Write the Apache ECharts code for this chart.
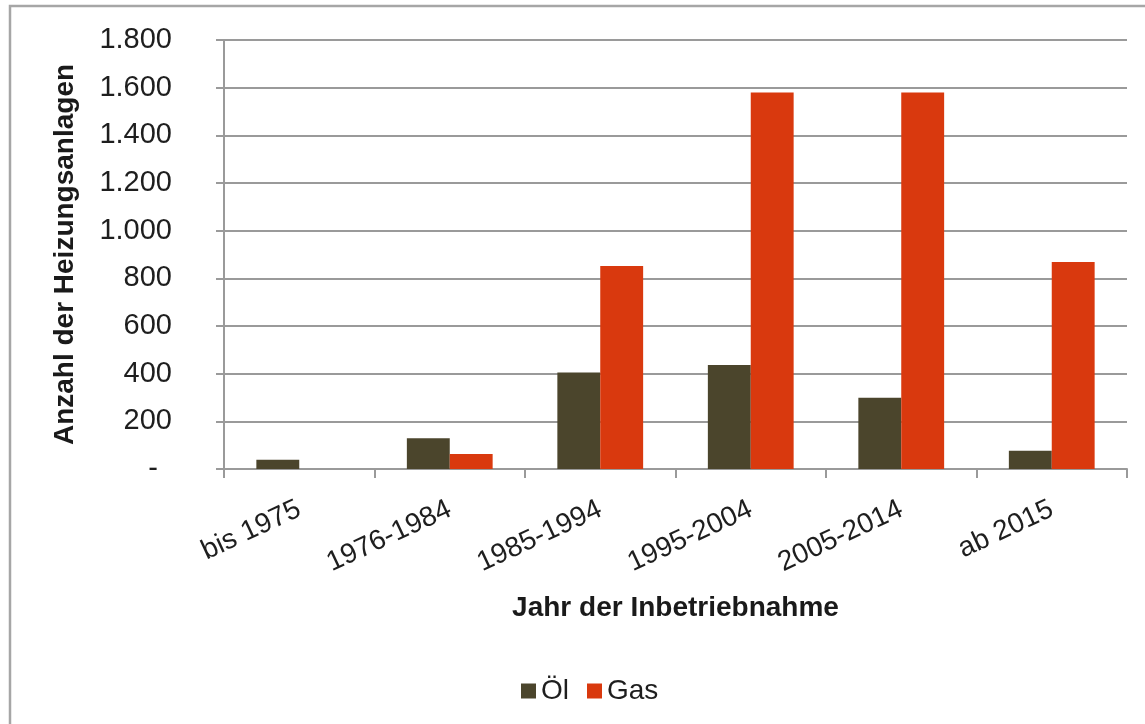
<!DOCTYPE html>
<html>
<head>
<meta charset="utf-8">
<script src="https://cdn.jsdelivr.net/npm/echarts@6/dist/echarts.min.js"></script>
<style>
    html, body { margin: 0; padding: 0; background: #fff; }
    #chart { width: 1145px; height: 724px; }
</style>
</head>
<body>
<div id="chart"></div>
<script>
var categories = ['bis 1975', '1976-1984', '1985-1994', '1995-2004', '2005-2014', 'ab 2015'];
var oelValues = [39, 129, 405, 436, 299, 77];
var gasValues = [0, 63, 852, 1580, 1580, 869];
var yTicks = [0, 200, 400, 600, 800, 1000, 1200, 1400, 1600, 1800];

var chartDom = document.getElementById('chart');
var myChart = echarts.init(chartDom);
var font = "'Liberation Sans', Arial, sans-serif";

function formatTick(v) {
    if (v === 0) {
        return '{d|-}';
    }
    // Tausenderpunkt wie im Original
    return String(v).replace(/\B(?=(\d{3})+(?!\d))/g, '.');
}

var option = {
    animation: false,
    backgroundColor: '#fff',
    textStyle: { fontFamily: font },
    graphic: [{
        type: 'rect',
        shape: { x: 10, y: 6, width: 1200, height: 800 },
        style: { fill: 'none', stroke: '#a6a6a6', lineWidth: 2.5 },
        silent: true
    }],
    grid: {
        left: 224,
        right: 18,
        top: 40,
        bottom: 255
    },
    legend: {
        data: ['Öl', 'Gas'],
        left: 516,
        top: 672,
        itemWidth: 15,
        itemHeight: 15,
        itemGap: 18,
        icon: 'rect',
        textStyle: { fontSize: 28, color: '#1e1e1e', fontFamily: font }
    },
    xAxis: {
        type: 'category',
        data: categories,
        name: 'Jahr der Inbetriebnahme',
        nameLocation: 'middle',
        nameGap: 125,
        nameTextStyle: { fontSize: 28, fontWeight: 'bold', color: '#1a1a1a', fontFamily: font },
        axisLine: { lineStyle: { color: '#9a9a9a', width: 2 } },
        axisTick: { show: true, length: 9, lineStyle: { color: '#9a9a9a', width: 2 } },
        axisLabel: {
            interval: 0,
            rotate: 25,
            margin: 39,
            fontSize: 28,
            color: '#1e1e1e',
            fontFamily: font
        }
    },
    yAxis: {
        type: 'value',
        min: 0,
        max: 1800,
        interval: 200,
        name: 'Anzahl der Heizungsanlagen',
        nameLocation: 'middle',
        nameGap: 145,
        nameTextStyle: { fontSize: 28, fontWeight: 'bold', color: '#1a1a1a', fontFamily: font },
        axisLine: { show: true, lineStyle: { color: '#9a9a9a', width: 2 } },
        axisTick: { show: true, length: 8, lineStyle: { color: '#9a9a9a', width: 2 } },
        axisLabel: {
            margin: 52,
            fontSize: 29,
            color: '#1e1e1e',
            fontFamily: font,
            formatter: formatTick,
            rich: {
                d: { fontSize: 29, color: '#1e1e1e', fontFamily: font, padding: [0, 14, 0, 0] }
            }
        },
        splitLine: { show: true, lineStyle: { color: '#9a9a9a', width: 2 } }
    },
    series: [{
        name: 'Öl',
        type: 'bar',
        data: oelValues,
        barGap: '0%',
        barCategoryGap: '43%',
        itemStyle: { color: '#4b452c' }
    }, {
        name: 'Gas',
        type: 'bar',
        data: gasValues,
        itemStyle: { color: '#d9390e' }
    }]
};

myChart.setOption(option);
</script>
</body>
</html>
